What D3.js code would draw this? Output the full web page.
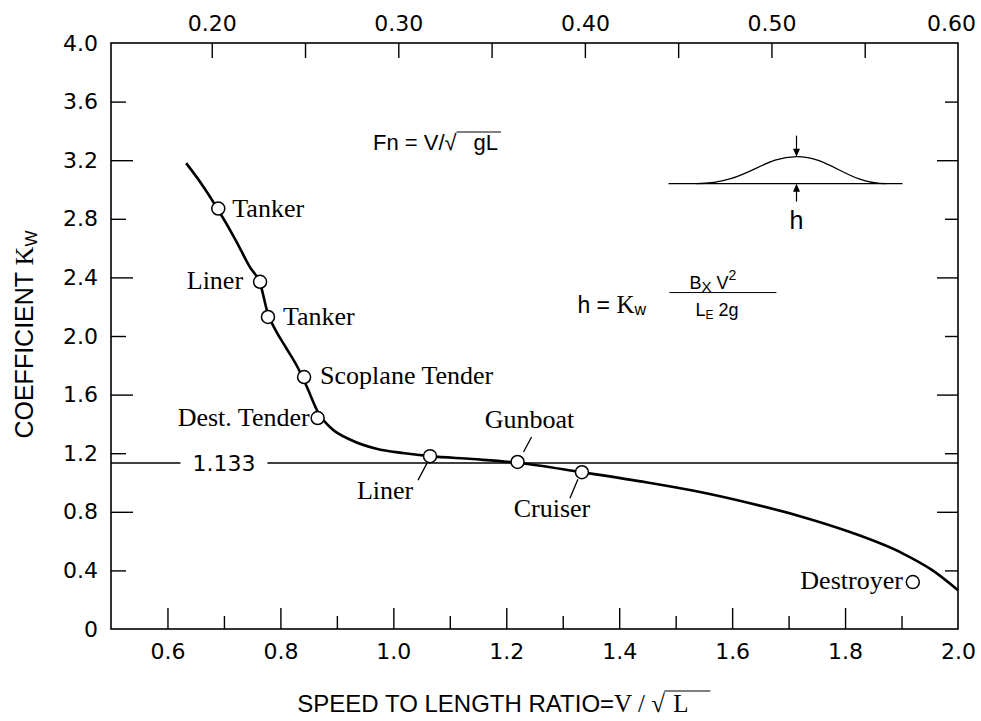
<!DOCTYPE html>
<html>
<head>
<meta charset="utf-8">
<script src="https://cdn.jsdelivr.net/npm/d3@7"></script>
<style>
  body { margin: 0; background: #fff; }
</style>
</head>
<body>
<div id="chart"></div>
<script>
// wave-making coefficient Kw against speed-length ratio V/sqrt(L)
const curveRatio = [0.633, 0.66, 0.69, 0.72, 0.746, 0.764, 0.778, 0.79, 0.81, 0.83, 0.846, 0.868, 0.89, 0.925, 0.97, 1.02, 1.065, 1.14, 1.22, 1.334, 1.45, 1.53, 1.63, 1.72, 1.81, 1.90, 1.955, 2.0];
const curveKw    = [3.18, 3.04, 2.86, 2.66, 2.47, 2.36, 2.15, 2.05, 1.92, 1.79, 1.66, 1.47, 1.37, 1.29, 1.23, 1.20, 1.18, 1.16, 1.135, 1.07, 1.00, 0.945, 0.86, 0.77, 0.66, 0.52, 0.40, 0.265];

// measured ships
const shipNames = ['Tanker', 'Liner', 'Tanker', 'Scoplane Tender', 'Dest. Tender', 'Liner', 'Gunboat', 'Cruiser', 'Destroyer'];
const shipRatio = [0.690, 0.764, 0.778, 0.842, 0.866, 1.065, 1.22, 1.334, 1.92];
const shipKw    = [2.87, 2.37, 2.13, 1.72, 1.44, 1.18, 1.14, 1.07, 0.32];

const refKw = 1.133;

// axes
const ratioDomain = [0.5, 2.0];
const kwDomain = [0, 4.0];
const xTicks = [0.6, 0.8, 1.0, 1.2, 1.4, 1.6, 1.8, 2.0];
const xMinor = [0.7, 0.9, 1.1, 1.3, 1.5, 1.7, 1.9];
const yTicks = [0, 0.4, 0.8, 1.2, 1.6, 2.0, 2.4, 2.8, 3.2, 3.6, 4.0];
const fnTicks = [0.20, 0.25, 0.30, 0.35, 0.40, 0.45, 0.50, 0.55, 0.60];
const fnDomain = [0.146, 0.60]; // Froude number at the left / right edge

const width = 981;
const height = 721;
const margin = {top: 43, right: 23, bottom: 92, left: 111};

const SANS = 'Liberation Sans, Arial, sans-serif';
const SERIF = 'Liberation Serif, Times New Roman, serif';
const TICKF = 'DejaVu Sans, sans-serif';

const svg = d3.select('#chart')
  .append('svg')
  .attr('width', width)
  .attr('height', height)
  .style('background', '#fff');

const x = d3.scaleLinear().domain(ratioDomain).range([margin.left, width - margin.right]);
const y = d3.scaleLinear().domain(kwDomain).range([height - margin.bottom, margin.top]);
const xTop = d3.scaleLinear().domain(fnDomain).range(x.range());

const longY = d => Math.round(d * 10) % 8 === 0;
const edgeY = d => d === 0 || d === 4.0;

// frame
svg.append('rect')
  .attr('x', x(0.5)).attr('y', y(4))
  .attr('width', x(2.0) - x(0.5)).attr('height', y(0) - y(4))
  .attr('fill', 'none').attr('stroke', '#000').attr('stroke-width', 1.6);

// left axis
const gl = svg.append('g')
  .attr('transform', `translate(${x(0.5)},0)`)
  .call(d3.axisLeft(y).tickValues(yTicks).tickSize(0).tickPadding(13)
    .tickFormat(d => d === 0 ? '0' : d3.format('.1f')(d)));
gl.select('.domain').remove();
gl.selectAll('.tick line')
  .attr('x2', d => edgeY(d) ? 0 : (longY(d) ? 22 : 15))
  .attr('stroke-width', 1.4);

// right axis (ticks only)
const gr = svg.append('g')
  .attr('transform', `translate(${x(2.0)},0)`)
  .call(d3.axisRight(y).tickValues(yTicks).tickSize(0).tickFormat(''));
gr.select('.domain').remove();
gr.selectAll('.tick line')
  .attr('x2', d => edgeY(d) ? 0 : (longY(d) ? -21 : -13))
  .attr('stroke-width', 1.4);

// bottom axis
const gb = svg.append('g')
  .attr('transform', `translate(0,${y(0)})`)
  .call(d3.axisBottom(x).tickValues(xTicks).tickSize(0).tickPadding(14)
    .tickFormat(d3.format('.1f')));
gb.select('.domain').remove();
gb.selectAll('.tick line')
  .attr('y2', d => d === 2.0 ? 0 : -21)
  .attr('stroke-width', 1.4);

const gbm = svg.append('g')
  .attr('transform', `translate(0,${y(0)})`)
  .call(d3.axisBottom(x).tickValues(xMinor).tickSize(0).tickFormat(''));
gbm.select('.domain').remove();
gbm.selectAll('.tick line').attr('y2', -13).attr('stroke-width', 1.4);

// top axis: Froude number
const gt = svg.append('g')
  .attr('transform', `translate(0,${y(4)})`)
  .call(d3.axisTop(xTop).tickValues(fnTicks).tickSize(0).tickPadding(12)
    .tickFormat(d => Math.round(d * 100) % 10 === 0 ? d3.format('.2f')(d) : ''));
gt.select('.domain').remove();
gt.selectAll('.tick line')
  .attr('y2', d => d === 0.60 ? 0 : 15)
  .attr('stroke-width', 1.4);
gt.selectAll('.tick text')
  .attr('dx', d => d === 0.60 ? -7 : 0);

[gl, gb, gt].forEach(g => g
  .attr('font-family', TICKF)
  .attr('font-size', 22)
  .selectAll('text').attr('fill', '#000'));

// 1.133 reference line
svg.append('line')
  .attr('x1', x(0.5)).attr('x2', x(2.0))
  .attr('y1', y(refKw)).attr('y2', y(refKw))
  .attr('stroke', '#000').attr('stroke-width', 1.4);

const refLabel = svg.append('g');
const refText = refLabel.append('text')
  .attr('x', x(0.70)).attr('y', y(refKw)).attr('dy', '0.36em')
  .attr('text-anchor', 'middle')
  .attr('font-family', TICKF).attr('font-size', 22)
  .text(d3.format('.3f')(refKw));
const rb = refText.node().getBBox();
refLabel.insert('rect', 'text')
  .attr('x', rb.x - 12).attr('y', rb.y)
  .attr('width', rb.width + 24).attr('height', rb.height)
  .attr('fill', '#fff');

// Kw curve
const line = d3.line()
  .x(d => x(d[0]))
  .y(d => y(d[1]))
  .curve(d3.curveMonotoneX);

svg.append('path')
  .datum(d3.zip(curveRatio, curveKw))
  .attr('d', line)
  .attr('fill', 'none')
  .attr('stroke', '#000')
  .attr('stroke-width', 2.6);

// label placement for each ship (pixel offsets from its circle)
const place = [
  {anchor: 'start',  dx: 14,  dy: 8},
  {anchor: 'end',    dx: -17, dy: 7},
  {anchor: 'start',  dx: 15,  dy: 8},
  {anchor: 'start',  dx: 16,  dy: 7},
  {anchor: 'end',    dx: -8,  dy: 8},
  {anchor: 'middle', dx: -45, dy: 43, lead: [-12, 24, -3, 7]},
  {anchor: 'middle', dx: 12,  dy: -34, lead: [6, -10, 14, -25]},
  {anchor: 'middle', dx: -30, dy: 45, lead: [-12, 26, -4, 7]},
  {anchor: 'end',    dx: -10, dy: 7}
];

const ships = shipNames.map((name, i) => ({name, r: shipRatio[i], kw: shipKw[i], p: place[i]}));

const gs = svg.append('g').selectAll('g').data(ships).join('g')
  .attr('transform', d => `translate(${x(d.r)},${y(d.kw)})`);

gs.filter(d => d.p.lead).append('line')
  .attr('x1', d => d.p.lead[0]).attr('y1', d => d.p.lead[1])
  .attr('x2', d => d.p.lead[2]).attr('y2', d => d.p.lead[3])
  .attr('stroke', '#000').attr('stroke-width', 1.3);

gs.append('circle')
  .attr('r', 6.5)
  .attr('fill', '#fff')
  .attr('stroke', '#000')
  .attr('stroke-width', 1.5);

gs.append('text')
  .attr('x', d => d.p.dx).attr('y', d => d.p.dy)
  .attr('text-anchor', d => d.p.anchor)
  .attr('font-family', SERIF).attr('font-size', 26)
  .text(d => d.name);

// Fn = V/sqrt(gL)
const fn = svg.append('g').attr('transform', `translate(${x(0.964)},${y(3.27)})`);
const fn1 = fn.append('text').attr('font-family', SANS).attr('font-size', 22).text('Fn = V/\u221A');
const fnb = fn1.node().getBBox();
const fn2 = fn.append('text').attr('x', fnb.x + fnb.width + 16)
  .attr('font-family', SANS).attr('font-size', 22).text('gL');
const fnb2 = fn2.node().getBBox();
fn.append('line')
  .attr('x1', fnb.x + fnb.width - 1).attr('x2', fnb2.x + fnb2.width + 3)
  .attr('y1', fnb.y + 2).attr('y2', fnb.y + 2)
  .attr('stroke', '#000').attr('stroke-width', 1.1);

// wave sketch with height h
const ax = x(1.714), ay = y(3.04);
const wave = svg.append('g').attr('transform', `translate(${ax},${ay})`);
wave.append('line').attr('x1', -128).attr('x2', 106).attr('y1', 0).attr('y2', 0)
  .attr('stroke', '#000').attr('stroke-width', 1.3);
wave.append('path')
  .attr('d', 'M-100,0 C-50,0 -35,-27 0,-27 C35,-27 50,0 90,0')
  .attr('fill', 'none').attr('stroke', '#000').attr('stroke-width', 1.3);
wave.append('line').attr('x1', 0).attr('x2', 0).attr('y1', -48).attr('y2', -33)
  .attr('stroke', '#000').attr('stroke-width', 1.2);
wave.append('path').attr('d', 'M-3.5,-35 L3.5,-35 L0,-27 Z').attr('fill', '#000');
wave.append('line').attr('x1', 0).attr('x2', 0).attr('y1', 18).attr('y2', 6)
  .attr('stroke', '#000').attr('stroke-width', 1.2);
wave.append('path').attr('d', 'M-3.5,8 L3.5,8 L0,0 Z').attr('fill', '#000');
wave.append('text').attr('y', 45).attr('text-anchor', 'middle')
  .attr('font-family', SANS).attr('font-size', 25).text('h');

// h = Kw * Bx V^2 / (LE 2g)
const hf = svg.append('g').attr('transform', `translate(${x(1.326)},${y(2.16)})`);
const hfText = hf.append('text').attr('font-family', SANS).attr('font-size', 23);
hfText.append('tspan').text('h = ');
hfText.append('tspan').attr('font-family', SERIF).attr('font-size', 25).text('K');
hfText.append('tspan').attr('font-size', 16).attr('dy', 2).text('w');
hf.append('line').attr('x1', 92).attr('x2', 199).attr('y1', -20).attr('y2', -20)
  .attr('stroke', '#000').attr('stroke-width', 1);
const num = hf.append('text').attr('x', 112).attr('y', -24).attr('font-family', SANS).attr('font-size', 18);
num.append('tspan').text('B');
num.append('tspan').attr('font-size', 15).attr('dy', 3).text('X');
num.append('tspan').attr('dy', -3).text(' V');
num.append('tspan').attr('font-size', 14).attr('dy', -9).text('2');
const den = hf.append('text').attr('x', 118).attr('y', 3).attr('font-family', SANS).attr('font-size', 18);
den.append('tspan').text('L');
den.append('tspan').attr('font-size', 12).attr('dy', 3).text('E');
den.append('tspan').attr('dy', -3).text(' 2g');

// axis titles
const xt = svg.append('g').attr('transform', `translate(${x(0.83)},${height - 9})`);
const xt1 = xt.append('text').attr('font-family', SANS).attr('font-size', 24).text('SPEED TO LENGTH RATIO=');
const xb1 = xt1.node().getBBox();
const xt2 = xt.append('text').attr('x', xb1.width).attr('font-family', SERIF).attr('font-size', 25).text('V / \u221A');
const xb2 = xt2.node().getBBox();
const xt3 = xt.append('text').attr('x', xb2.x + xb2.width + 8).attr('font-family', SERIF).attr('font-size', 25).text('L');
const xb3 = xt3.node().getBBox();
xt.append('line')
  .attr('x1', xb2.x + xb2.width - 1).attr('x2', xb3.x + xb3.width + 22)
  .attr('y1', xb2.y + 1).attr('y2', xb2.y + 1)
  .attr('stroke', '#000').attr('stroke-width', 1.1);

const yt = svg.append('text')
  .attr('transform', `translate(33,${y(1.30)}) rotate(-90)`)
  .attr('font-family', SANS).attr('font-size', 25);
yt.append('tspan').text('COEFFICIENT ');
yt.append('tspan').attr('font-family', SERIF).attr('font-size', 26).text('K');
yt.append('tspan').attr('font-size', 17).attr('dy', 4).text('W');
</script>
</body>
</html>
